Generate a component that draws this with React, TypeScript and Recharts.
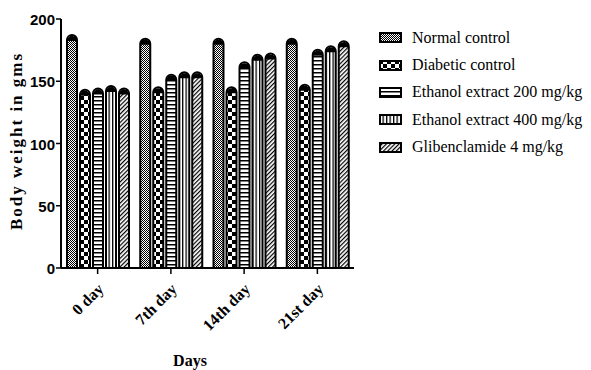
import React from 'react';
import { BarChart, Bar, XAxis, YAxis } from 'recharts';

const days = ['0 day', '7th day', '14th day', '21st day'];
const normalControl = [184, 181, 181, 181];
const diabeticControl = [140, 142, 142, 144];
const ethanol200 = [141, 152, 162, 172];
const ethanol400 = [143, 154, 168, 175];
const glibenclamide = [141, 154, 169, 179];
const yTicks = [0, 50, 100, 150, 200];

const series = [
  { key: 'normal', name: 'Normal control', values: normalControl, pattern: 'pNormal' },
  { key: 'diabetic', name: 'Diabetic control', values: diabeticControl, pattern: 'pDiabetic' },
  { key: 'eth200', name: 'Ethanol extract 200 mg/kg', values: ethanol200, pattern: 'pEth200' },
  { key: 'eth400', name: 'Ethanol extract 400 mg/kg', values: ethanol400, pattern: 'pEth400' },
  { key: 'glib', name: 'Glibenclamide 4 mg/kg', values: glibenclamide, pattern: 'pGlib' },
];

const data = days.map((d, i) => {
  const row: any = { day: d };
  series.forEach((s) => (row[s.key] = s.values[i]));
  return row;
});

const serif = '"Liberation Serif", "Times New Roman", serif';
const sans = '"Liberation Sans", Arial, sans-serif';

const Patterns = () => (
  <defs>
    <pattern id="pNormal" width="2" height="2" patternUnits="userSpaceOnUse">
      <rect width="2" height="2" fill="#fff" />
      <rect width="1" height="1" fill="#000" />
      <rect x="1" y="1" width="1" height="1" fill="#000" />
    </pattern>
    <pattern id="pDiabetic" width="8" height="8" patternUnits="userSpaceOnUse">
      <rect width="8" height="8" fill="#fff" />
      <rect width="4" height="4" fill="#000" />
      <rect x="4" y="4" width="4" height="4" fill="#000" />
    </pattern>
    <pattern id="pEth200" width="4" height="4" patternUnits="userSpaceOnUse">
      <rect width="4" height="4" fill="#fff" />
      <rect width="4" height="1.5" fill="#000" />
    </pattern>
    <pattern id="pEth400" width="3.5" height="4" patternUnits="userSpaceOnUse">
      <rect width="3.5" height="4" fill="#fff" />
      <rect width="1.3" height="4" fill="#000" />
    </pattern>
    <pattern id="pGlib" width="3" height="3" patternUnits="userSpaceOnUse" patternTransform="rotate(45)">
      <rect width="3" height="3" fill="#fff" />
      <rect width="1.2" height="3" fill="#000" />
    </pattern>
  </defs>
);

// bar with the black rounded error-bar cap on top
const BarShape = (props: any) => {
  const { x, y, width, height, pattern } = props;
  const r = width / 2;
  const top = y - 4;
  const bottom = y + height;
  const d = `M${x},${bottom} L${x},${top + r} A${r},${r} 0 0 1 ${x + width},${top + r} L${x + width},${bottom} Z`;
  return (
    <g>
      <path d={d} fill={`url(#${pattern})`} stroke="#000" strokeWidth={2} />
      <path d={`M${x},${top + r + 1} A${r},${r} 0 0 1 ${x + width},${top + r + 1} Z`} fill="#000" />
    </g>
  );
};

const XTick = (props: any) => {
  const { x, y, payload } = props;
  const tx = x + 7;
  const ty = y + 14;
  return (
    <text
      x={tx}
      y={ty}
      transform={`rotate(-45 ${tx} ${ty})`}
      textAnchor="end"
      fontFamily={serif}
      fontWeight="bold"
      fontSize={16}
      fill="#000"
    >
      {payload.value}
    </text>
  );
};

const YTick = (props: any) => {
  const { x, y, payload } = props;
  return (
    <text x={x + 1} y={y + 6} textAnchor="end" fontFamily={sans} fontWeight="bold" fontSize={15} fill="#000">
      {payload.value}
    </text>
  );
};

const YLabel = () => (
  <text
    x={22}
    y={141}
    transform="rotate(-90 22 141)"
    textAnchor="middle"
    fontFamily={serif}
    fontWeight="bold"
    fontSize={17}
    letterSpacing={2}
    fill="#000"
  >
    Body weight in gms
  </text>
);

const XLabel = () => (
  <text x={190} y={366} textAnchor="middle" fontFamily={serif} fontWeight="bold" fontSize={16} fill="#000">
    Days
  </text>
);

const LegendBox = () => (
  <div style={{ position: 'absolute', left: 379, top: 24, fontFamily: serif, fontSize: 16, color: '#000' }}>
    {series.map((s) => (
      <div key={s.key} style={{ display: 'flex', alignItems: 'center', height: 27.4, whiteSpace: 'nowrap' }}>
        <svg width={23} height={11} style={{ marginRight: 10 }}>
          <rect x={1} y={1} width={21} height={9} fill={`url(#${s.pattern})`} stroke="#000" strokeWidth={2} />
        </svg>
        <span>{s.name}</span>
      </div>
    ))}
  </div>
);

export default function App() {
  return (
    <div style={{ position: 'absolute', left: 0, top: 0, width: 591, height: 370, background: '#fff' }}>
      <BarChart
        width={591}
        height={370}
        data={data}
        margin={{ top: 19, right: 237, bottom: 0, left: 0 }}
        barSize={10}
        barGap={3}
      >
        <Patterns />
        <XAxis
          dataKey="day"
          height={102}
          tick={<XTick />}
          tickSize={6}
          axisLine={{ stroke: '#000', strokeWidth: 2 }}
          tickLine={{ stroke: '#000', strokeWidth: 1.5 }}
          interval={0}
          label={<XLabel />}
        />
        <YAxis
          width={61}
          domain={[0, 200]}
          ticks={yTicks}
          tick={<YTick />}
          tickSize={5}
          axisLine={{ stroke: '#000', strokeWidth: 2 }}
          tickLine={{ stroke: '#000', strokeWidth: 1.5 }}
          label={<YLabel />}
        />
        {series.map((s) => (
          <Bar
            key={s.key}
            dataKey={s.key}
            name={s.name}
            isAnimationActive={false}
            shape={(p: any) => <BarShape {...p} pattern={s.pattern} />}
          />
        ))}
      </BarChart>
      <LegendBox />
    </div>
  );
}
